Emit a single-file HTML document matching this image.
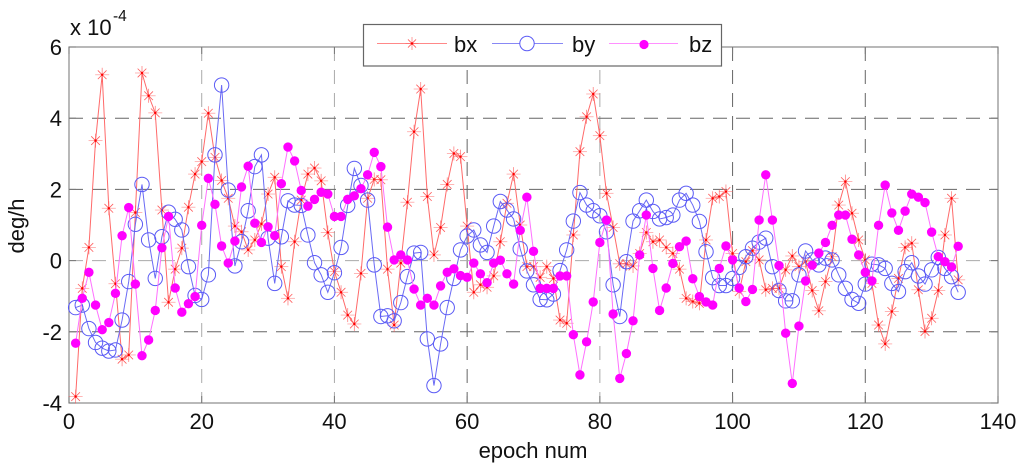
<!DOCTYPE html>
<html lang="en">
<head>
<meta charset="utf-8">
<title>bx by bz drift chart</title>
<style>
html,body{margin:0;padding:0;background:#fff;}
#chart{display:block;width:1024px;height:469px;filter:blur(0.35px);}
text{font-family:"Liberation Sans",Arial,sans-serif;fill:#111;}
</style>
</head>
<body>
<svg id="chart" xmlns="http://www.w3.org/2000/svg" width="1024" height="469" viewBox="0 0 1024 469"></svg>
<script>
const seriesNames = ['bx', 'by', 'bz'];
const xTickLabels = [0, 20, 40, 60, 80, 100, 120, 140];
const yTickLabels = [-4, -2, 0, 2, 4, 6];
const bxValues = [-3.82,-0.78,0.37,3.37,5.22,1.47,-0.65,-2.77,-2.65,1.35,5.27,4.63,4.15,1.42,-1.17,-0.24,0.35,1.5,2.43,2.78,4.14,2.9,2.25,1.75,0.97,0.81,0.3,0.58,1.03,1.87,2.34,-0.17,-1.06,0.53,1.7,2.43,2.6,2.24,0.79,-0.31,-0.89,-1.53,-1.78,-0.36,1.75,2.28,2.27,-0.24,-1.81,-0.07,1.64,3.62,4.82,1.8,0.16,0.93,2.14,3.01,2.92,0.97,-0.89,-0.68,-0.75,-0.43,0.53,1.61,2.43,1.0,-0.17,-0.17,-0.47,-0.17,-0.5,-1.67,-1.76,0.72,3.06,4.04,4.68,3.51,1.89,0.93,-0.09,-0.09,-0.15,0.2,0.79,0.53,0.58,0.37,0.2,-0.24,-1.06,-1.15,-1.2,0.58,1.75,1.8,1.94,0.2,-0.87,-0.03,0.28,0.02,-0.82,-0.78,-0.78,-0.26,0.13,-0.17,-0.03,-0.84,-1.41,-0.59,0.11,1.56,2.22,1.33,0.58,0.02,-0.64,-1.81,-2.34,-1.43,-0.5,0.37,0.49,-0.82,-1.99,-1.62,-0.84,0.72,1.75,-0.54];
const byValues = [-1.32,-1.25,-1.91,-2.3,-2.46,-2.54,-2.51,-1.67,-0.59,1.02,2.14,0.58,-0.5,0.67,1.36,1.16,0.86,-0.17,-0.98,-1.09,-0.4,2.97,4.93,1.98,-0.15,0.53,1.4,2.64,2.97,0.63,-0.64,0.67,1.68,1.56,1.55,0.72,-0.06,-0.4,-0.89,-0.34,0.37,1.55,2.59,2.11,1.7,-0.12,-1.57,-1.55,-1.69,-1.18,-0.45,0.21,0.23,-2.2,-3.51,-2.34,-1.32,-0.5,0.3,0.69,0.86,0.44,0.23,0.97,1.66,1.42,1.17,0.33,-0.29,-0.68,-1.09,-1.1,-0.94,-0.28,0.3,1.11,1.91,1.56,1.4,1.26,0.81,-0.68,-1.57,-0.03,1.11,1.4,1.7,1.38,1.17,1.21,1.28,1.7,1.89,1.56,1.1,0.25,-0.48,-0.7,-0.7,-0.5,-0.19,0.11,0.35,0.52,0.63,-0.17,-0.84,-1.13,-1.13,-0.4,0.27,0.02,-0.12,0.07,0.02,-0.4,-0.78,-1.09,-1.2,-0.66,-0.1,-0.12,-0.22,-0.64,-0.87,-0.31,-0.06,-0.43,-0.66,-0.26,0.09,-0.22,-0.45,-0.89];
const bzValues = [-2.32,-1.06,-0.33,-1.25,-1.94,-1.74,-0.92,0.7,1.49,-0.66,-2.67,-2.23,-1.4,0.36,1.24,-0.77,-1.45,-1.21,-1.01,0.99,2.31,1.58,0.41,-0.07,0.55,2.07,2.65,1.05,0.51,0.95,0.7,2.16,3.19,2.8,1.97,1.53,1.72,1.92,1.87,1.24,1.24,1.72,1.82,2.02,2.41,3.04,2.64,0.94,0.02,0.16,0.02,-0.8,-1.25,-1.06,-1.25,-0.71,-0.33,-0.23,-0.42,-0.47,-0.07,-0.37,-0.62,-0.07,0.01,-0.37,-0.66,0.85,1.78,0.26,-0.78,-0.78,-0.78,-0.43,-0.43,-2.08,-3.21,-2.28,-1.16,0.51,1.14,-1.5,-3.31,-2.61,-1.69,0.16,1.28,-0.22,-1.4,-0.77,-0.08,0.39,0.55,-0.51,-1.01,-1.16,-1.25,-0.22,0.41,0.02,-0.77,-1.15,-0.81,1.14,2.41,1.14,-0.14,-2.04,-3.45,-1.84,-0.57,-0.13,0.21,0.51,0.99,1.28,1.28,0.6,0.16,-0.33,-0.57,0.99,2.12,1.34,0.85,1.39,1.87,1.78,1.63,0.8,0.11,-0.03,-0.18,0.4];

const svg = document.getElementById('chart');
const NS = 'http://www.w3.org/2000/svg';
const plot = {left: 69, right: 998, top: 47, bottom: 403};
const xMin = 0, xMax = 140, yMin = -4, yMax = 6;
function xScale(v) { return plot.left + (v - xMin) / (xMax - xMin) * (plot.right - plot.left); }
function yScale(v) { return plot.bottom - (v - yMin) / (yMax - yMin) * (plot.bottom - plot.top); }
function make(tag, attrs, parent) {
  const el = document.createElementNS(NS, tag);
  for (const k in attrs) el.setAttribute(k, attrs[k]);
  (parent || svg).appendChild(el);
  return el;
}

/* plot background */
const plotBg = make('rect', {x: plot.left, y: plot.top, width: plot.right - plot.left, height: plot.bottom - plot.top, fill: '#fff'});



/* grid */
const gridGroup = make('g', {});


const lightX = [20, 40, 80];
xTickLabels.forEach(t => {
  if (t === xMin || t === xMax) return;
  const line = make('line', {x1: xScale(t), x2: xScale(t), y1: plot.top, y2: plot.bottom, stroke: lightX.includes(t) ? '#aaa' : '#666', 'stroke-width': 1, 'stroke-dasharray': '14 9'}, gridGroup);
  
  
});
yTickLabels.forEach(t => {
  if (t === yMin || t === yMax) return;
  const line = make('line', {x1: plot.left, x2: plot.right, y1: yScale(t), y2: yScale(t), stroke: t === 0 ? '#aaa' : '#666', 'stroke-width': 1, 'stroke-dasharray': '14 9'}, gridGroup);
  
  
});

/* axes box and ticks */
const axisBox = make('rect', {x: plot.left, y: plot.top, width: plot.right - plot.left, height: plot.bottom - plot.top, fill: 'none', stroke: '#8a8a8a', 'stroke-width': 1.2});


xTickLabels.forEach(t => {
  const px = xScale(t);
  const tb = make('line', {x1: px, x2: px, y1: plot.bottom, y2: plot.bottom - 7, stroke: '#777', 'stroke-width': 1});
  
  
  const tt = make('line', {x1: px, x2: px, y1: plot.top, y2: plot.top + 7, stroke: '#777', 'stroke-width': 1});
  
  
  const label = make('text', {x: px, y: 429, 'text-anchor': 'middle', 'font-size': 22});
  label.textContent = t;
  
  
});
yTickLabels.forEach(t => {
  const py = yScale(t);
  const tl = make('line', {x1: plot.left, x2: plot.left + 7, y1: py, y2: py, stroke: '#777', 'stroke-width': 1});
  
  
  const tr = make('line', {x1: plot.right, x2: plot.right - 7, y1: py, y2: py, stroke: '#777', 'stroke-width': 1});
  
  
  const label = make('text', {x: 62, y: py + 8, 'text-anchor': 'end', 'font-size': 22});
  label.textContent = t;
  
  
});

/* titles */
const xTitle = make('text', {x: 533, y: 458, 'text-anchor': 'middle', 'font-size': 22});
xTitle.textContent = 'epoch num';


const yTitle = make('text', {x: 0, y: 0, 'text-anchor': 'middle', 'font-size': 22, transform: 'translate(24 226) rotate(-90)'});
yTitle.textContent = 'deg/h';


const scaleBase = make('text', {x: 70, y: 35, 'font-size': 22});
scaleBase.textContent = 'x 10';


const scaleExp = make('text', {x: 113, y: 21, 'font-size': 15.5});
scaleExp.textContent = '-4';



/* marker drawing */
function drawStar(cx, cy, r, parent) {
  const g = make('g', {stroke: '#ff5a5a', 'stroke-width': 0.8}, parent);
  const d = r * 0.62;
  make('line', {x1: cx - r, x2: cx + r, y1: cy, y2: cy, 'stroke-opacity': 0.55}, g);
  make('line', {x1: cx, x2: cx, y1: cy - r, y2: cy + r, 'stroke-opacity': 0.75}, g);
  make('line', {x1: cx - d, x2: cx + d, y1: cy - d, y2: cy + d}, g);
  make('line', {x1: cx - d, x2: cx + d, y1: cy + d, y2: cy - d}, g);
  make('circle', {cx: cx, cy: cy, r: 1.2, fill: '#f00', stroke: 'none'}, g);
  return g;
}
function drawCircle(cx, cy, r, parent) {
  return make('circle', {cx: cx, cy: cy, r: r, fill: 'none', stroke: '#5a5af5', 'stroke-width': 1}, parent);
}
function drawDot(cx, cy, r, parent) {
  return make('circle', {cx: cx, cy: cy, r: r, fill: '#ff00ff'}, parent);
}
function linePath(values) {
  return values.map((v, i) => (i ? 'L' : 'M') + xScale(i + 1).toFixed(2) + ' ' + yScale(v).toFixed(2)).join('');
}

/* series */
const bxGroup = make('g', {});


const bxLine = make('path', {d: linePath(bxValues), fill: 'none', stroke: '#ff6a6a', 'stroke-width': 1}, bxGroup);


bxValues.forEach((v, i) => {
  const m = drawStar(xScale(i + 1), yScale(v), 7, bxGroup);
  
  
});

const byGroup = make('g', {});


const byLine = make('path', {d: linePath(byValues), fill: 'none', stroke: '#6a6af5', 'stroke-width': 1}, byGroup);


byValues.forEach((v, i) => {
  const m = drawCircle(xScale(i + 1), yScale(v), 7.2, byGroup);
  
  
});

const bzGroup = make('g', {});


const bzLine = make('path', {d: linePath(bzValues), fill: 'none', stroke: '#ff70ff', 'stroke-width': 1}, bzGroup);


bzValues.forEach((v, i) => {
  const m = drawDot(xScale(i + 1), yScale(v), 4.7, bzGroup);
  
  
});

/* legend */
const legend = make('g', {});


const legendBox = make('rect', {x: 363.5, y: 24.5, width: 358, height: 41.5, fill: '#fff', stroke: '#666', 'stroke-width': 1.2}, legend);


const legendY = 43.5;

const bxKeyLine = make('line', {x1: 377, x2: 447, y1: legendY, y2: legendY, stroke: '#ff8888', 'stroke-width': 1}, legend);


const bxKeyMark = drawStar(412, legendY, 6.5, legend);


const bxKeyText = make('text', {x: 454, y: 52, 'font-size': 22}, legend);
bxKeyText.textContent = seriesNames[0];



const byKeyLine = make('line', {x1: 492, x2: 563, y1: legendY, y2: legendY, stroke: '#8888f5', 'stroke-width': 1}, legend);


const byKeyMark = drawCircle(527, legendY, 7.2, legend);
byKeyMark.setAttribute('fill', '#fff');


const byKeyText = make('text', {x: 572, y: 52, 'font-size': 22}, legend);
byKeyText.textContent = seriesNames[1];



const bzKeyLine = make('line', {x1: 609, x2: 678, y1: legendY, y2: legendY, stroke: '#ff90ff', 'stroke-width': 1}, legend);


const bzKeyMark = drawDot(644, legendY + 1, 4.6, legend);


const bzKeyText = make('text', {x: 689, y: 52, 'font-size': 22}, legend);
bzKeyText.textContent = seriesNames[2];


</script>
</body>
</html>
